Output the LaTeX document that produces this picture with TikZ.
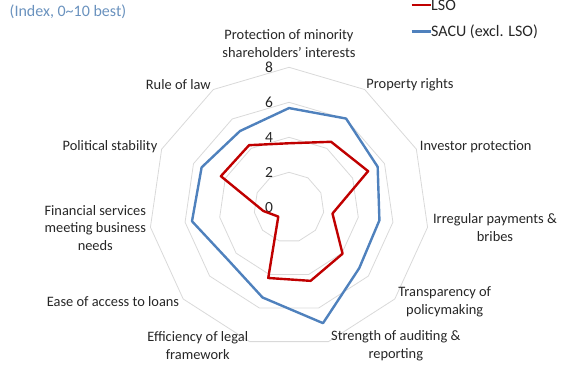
\documentclass[tikz,border=0pt]{standalone}
\usepackage{fontspec}
\setmainfont{Carlito}
\usetikzlibrary{calc}
\definecolor{lsocol}{RGB}{192,0,0}
\definecolor{sacucol}{RGB}{79,129,189}
\definecolor{ringcol}{RGB}{217,217,217}
\definecolor{titlecol}{RGB}{106,146,190}
\definecolor{txtcol}{RGB}{38,38,38}
\begin{document}
\begin{tikzpicture}[x=1pt,y=-1pt,
  gridline/.style={draw=ringcol,line width=0.8pt},
  lsoline/.style={draw=lsocol,line width=2.4pt,line join=round},
  saculine/.style={draw=sacucol,line width=2.4pt,line join=round},
  catlbl/.style={font=\fontsize{14.4}{17.6}\selectfont,align=center,text=txtcol,inner sep=0pt},
  numlbl/.style={font=\fontsize{15.5}{18}\selectfont,text=txtcol,inner sep=0pt},
  leglbl/.style={font=\fontsize{16}{19}\selectfont,text=txtcol,inner sep=0pt,anchor=base west},
]
\useasboundingbox (0,0) rectangle (561,364);
\coordinate (C) at (289,207.3);
% rings
\foreach \r in {2,4,6,8}{
  \draw[gridline] ($(C)+(-90:{17.5*\r})$)
    \foreach \k in {1,...,10}{ -- ($(C)+({\k*360/11-90}:{17.5*\r})$) } -- cycle;
}
% scale labels
\foreach \n in {0,2,4,6,8}{
  \node[numlbl] (n\n) at (269,{207.3-17.5*\n}) {\n};
}
% data points
\foreach \v [count=\k from 0] in {3.66,4.45,4.97,2.51,4.05,4.38,4.21,0.81,1.48,4.28,4.22}{
  \coordinate (l\k) at ($(C)+({\k*360/11-90}:{17.5*\v})$);
}
\foreach \v [count=\k from 0] in {5.67,6.03,5.57,5.22,5.31,6.9,5.37,4.6,5.6,5.49,5.18}{
  \coordinate (s\k) at ($(C)+({\k*360/11-90}:{17.5*\v})$);
}
\draw[lsoline] (l0) -- (l1) -- (l2) -- (l3) -- (l4) -- (l5) -- (l6) -- (l7) -- (l8) -- (l9) -- (l10) -- cycle;
\draw[saculine] (s0) -- (s1) -- (s2) -- (s3) -- (s4) -- (s5) -- (s6) -- (s7) -- (s8) -- (s9) -- (s10) -- cycle;
% category labels
\node[catlbl] (c0) at (289,43.7) {Protection of minority\\shareholders' interests};
\node[catlbl] (c1) at (410,85) {Property rights};
\node[catlbl] (c2) at (475.7,146.7) {Investor protection};
\node[catlbl] (c3) at (495,227.8) {Irregular payments \&\\bribes};
\node[catlbl] (c4) at (444.7,301.5) {Transparency of\\policymaking};
\node[catlbl] (c5) at (395.8,345.7) {Strength of auditing \&\\reporting};
\node[catlbl] (c6) at (197.8,345.7) {Efficiency of legal\\framework};
\node[catlbl] (c7) at (113,301.7) {Ease of access to loans};
\node[catlbl] (c8) at (95.3,227.8) {Financial services\\meeting business\\needs};
\node[catlbl] (c9) at (110,146.7) {Political stability};
\node[catlbl] (c10) at (178.3,85) {Rule of law};
% title
\node[leglbl,text=titlecol] (title) at (9.5,16.5) {(Index, 0\textasciitilde10 best)};
% legend
\coordinate (la) at (411.5,5);
\coordinate (lb) at (430.5,5);
\coordinate (sa) at (411.5,31.5);
\coordinate (sb) at (430.5,31.5);
\draw[draw=lsocol,line width=2.4pt] (la) -- (lb);
\draw[draw=sacucol,line width=2.4pt] (sa) -- (sb);
\node[leglbl] (lsotxt) at (431,10.5) {LSO};
\node[leglbl] (sacutxt) at (431,36.8) {SACU (excl. LSO)};
\end{tikzpicture}
\end{document}
